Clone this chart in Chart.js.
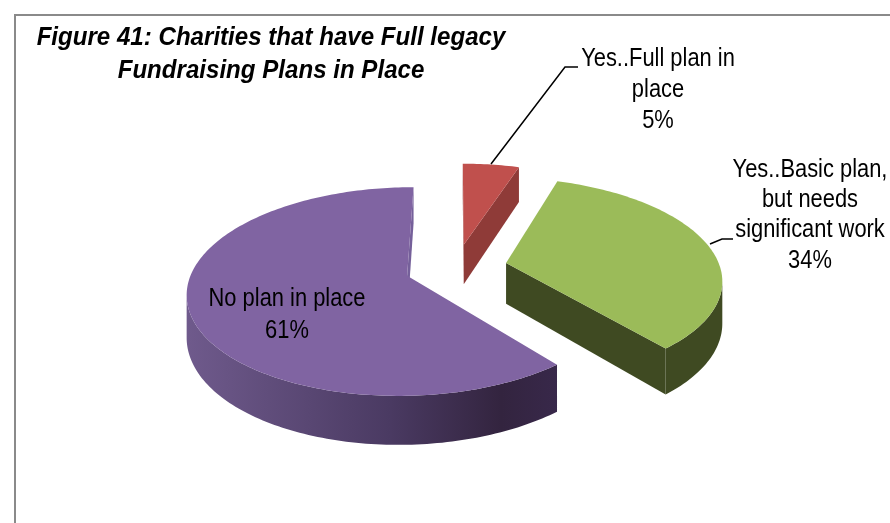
<!DOCTYPE html>
<html>
<head>
<meta charset="utf-8">
<title>Figure 41</title>
<script src="https://cdn.jsdelivr.net/npm/chart.js@4"></script>
<style>
  html, body { margin: 0; padding: 0; background: #fff; }
  #wrap { width: 890px; height: 523px; position: relative; }
  canvas { display: block; }
</style>
</head>
<body>
<div id="wrap"><canvas id="pie" width="890" height="523"></canvas></div>
<script>
// chart values
var categories = ['Yes..Full plan in place', 'Yes..Basic plan, but needs significant work', 'No plan in place'];
var percents = [5, 34, 61];
var titleLines = ['Figure 41: Charities that have Full legacy', 'Fundraising Plans in Place'];

var topColors = ['#c0504d', '#9bbb59', '#8064a2'];
var cutColors = ['#8f3b38', '#3f4a22', '#75609a'];
var wallColors = [
    [[0, '#8f3b38'], [1, '#8f3b38']],
    [[0, '#3f4a22'], [1, '#3f4a22']],
    [[0, '#6f5a8c'], [0.55, '#4a3a62'], [0.85, '#33243f'], [1, '#38284a']]
];

// view of the tilted pie
var view = { x: 456, y: 267.5, a: 214, b: 99.5, p: 0.15, h: 41 };

function project(u, v, z) {
    var d = 1 - view.p * v;
    return { x: view.x + view.a * u / d, y: view.y + (view.b * v + z * view.h) / d };
}

function fillPoly(ctx, pts, fill) {
    ctx.beginPath();
    pts.forEach(function(p, i) { i ? ctx.lineTo(p.x, p.y) : ctx.moveTo(p.x, p.y); });
    ctx.closePath();
    ctx.fillStyle = fill;
    ctx.fill();
}

/**
 * Draws one slice of the pie in 3D from the arc that Chart.js laid out.
 */
function drawSlice(ctx, arc, i) {
    var R = arc.outerRadius;
    var off = arc.options.offset / R;
    var mid = (arc.startAngle + arc.endAngle) / 2;
    var u0 = Math.cos(mid) * off, v0 = Math.sin(mid) * off;
    var n = Math.ceil((arc.endAngle - arc.startAngle) / 0.02);
    var rim = [];
    for (var k = 0; k <= n; k++) {
        var t = arc.startAngle + (arc.endAngle - arc.startAngle) * k / n;
        rim.push([u0 + Math.cos(t), v0 + Math.sin(t)]);
    }
    var top = rim.map(function(r) { return project(r[0], r[1], 0); });
    var bot = rim.map(function(r) { return project(r[0], r[1], 1); });
    var c0 = project(u0, v0, 0), c1 = project(u0, v0, 1);

    // wall shading runs left to right over the slice
    var xs = top.map(function(p) { return p.x; });
    var grad = ctx.createLinearGradient(Math.min.apply(null, xs), 0, Math.max.apply(null, xs), 0);
    wallColors[i].forEach(function(s) { grad.addColorStop(s[0], s[1]); });

    // cut faces
    if (top[n].x > c0.x) fillPoly(ctx, [c0, top[n], bot[n], c1], cutColors[i]);
    if (top[0].x < c0.x) fillPoly(ctx, [c0, top[0], bot[0], c1], cutColors[i]);
    // outer wall, only the part facing the viewer
    var upper = [], lower = [];
    for (k = 0; k < n; k++) {
        if (top[k + 1].x < top[k].x) {
            if (!upper.length) { upper.push(top[k]); lower.push(bot[k]); }
            upper.push(top[k + 1]);
            lower.push(bot[k + 1]);
        }
    }
    if (upper.length) fillPoly(ctx, upper.concat(lower.reverse()), grad);
    // top face
    fillPoly(ctx, [c0].concat(top), arc.options.backgroundColor);
}

function drawText(ctx, text, x, y, font, squeeze) {
    ctx.save();
    ctx.translate(x, y);
    ctx.scale(squeeze, 1);
    ctx.font = font;
    ctx.textAlign = 'center';
    ctx.textBaseline = 'alphabetic';
    ctx.fillStyle = '#000';
    ctx.fillText(text, 0, 0);
    ctx.restore();
}

function drawLeader(ctx, pts) {
    ctx.beginPath();
    pts.forEach(function(p, i) { i ? ctx.lineTo(p[0], p[1]) : ctx.moveTo(p[0], p[1]); });
    ctx.strokeStyle = '#000';
    ctx.lineWidth = 1.5;
    ctx.stroke();
}

var pie3d = {
    id: 'pie3d',
    beforeDraw: function(chart) {
        var ctx = chart.ctx;
        ctx.save();
        ctx.fillStyle = '#fff';
        ctx.fillRect(0, 0, chart.width, chart.height);
        // chart frame
        ctx.strokeStyle = '#8a8a8a';
        ctx.lineWidth = 2;
        ctx.beginPath();
        ctx.moveTo(15, chart.height);
        ctx.lineTo(15, 15);
        ctx.lineTo(chart.width, 15);
        ctx.stroke();
        ctx.restore();
    },
    beforeDatasetDraw: function(chart, args) {
        var ctx = chart.ctx;
        ctx.save();
        args.meta.data.forEach(function(arc, i) { drawSlice(ctx, arc, i); });
        ctx.restore();
        return false;
    },
    afterDraw: function(chart) {
        var ctx = chart.ctx;
        var titleFont = 'italic bold 25px "Liberation Sans"';
        var labelFont = '25px "Liberation Sans"';
        drawText(ctx, titleLines[0], 271, 45, titleFont, 0.964);
        drawText(ctx, titleLines[1], 271, 78, titleFont, 0.964);

        drawLeader(ctx, [[491, 164], [565, 67], [578, 67]]);
        drawLeader(ctx, [[710, 244], [722, 239], [733, 239]]);

        drawText(ctx, 'Yes..Full plan in', 658, 66, labelFont, 0.875);
        drawText(ctx, 'place', 658, 97, labelFont, 0.875);
        drawText(ctx, percents[0] + '%', 658, 128, labelFont, 0.875);

        drawText(ctx, 'Yes..Basic plan,', 810, 177, labelFont, 0.875);
        drawText(ctx, 'but needs', 810, 207, labelFont, 0.875);
        drawText(ctx, 'significant work', 810, 237, labelFont, 0.875);
        drawText(ctx, percents[1] + '%', 810, 268, labelFont, 0.875);

        drawText(ctx, categories[2], 287, 306, labelFont, 0.875);
        drawText(ctx, percents[2] + '%', 287, 338, labelFont, 0.875);
    }
};

var chart = new Chart(document.getElementById('pie').getContext('2d'), {
    type: 'pie',
    data: {
        labels: categories,
        datasets: [{
            data: percents,
            backgroundColor: topColors,
            borderWidth: 0,
            offset: 56
        }]
    },
    options: {
        responsive: false,
        maintainAspectRatio: false,
        animation: false,
        plugins: { legend: { display: false }, tooltip: { enabled: false } }
    },
    plugins: [pie3d]
});
</script>
</body>
</html>
